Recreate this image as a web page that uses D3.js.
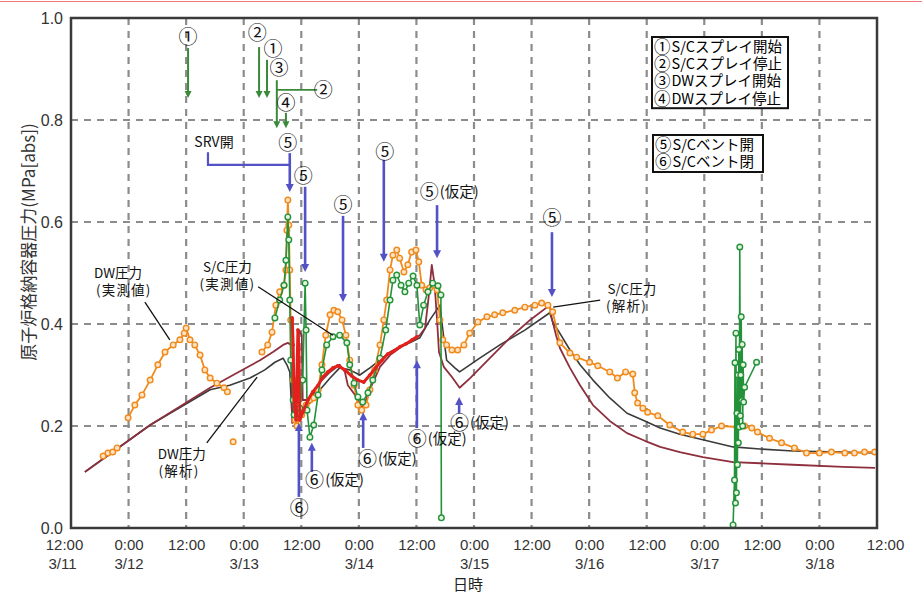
<!DOCTYPE html>
<html lang="ja">
<head>
<meta charset="utf-8">
<title>原子炉格納容器圧力</title>
<script src="https://cdn.jsdelivr.net/npm/d3@7/dist/d3.min.js"></script>
<style>
  html, body { margin: 0; padding: 0; background: #fff; }
  svg { display: block; }
  text { font-family: "Noto Sans CJK JP", "Noto Sans", sans-serif; }
  .num { font-family: "Liberation Sans", Arial, sans-serif; }
</style>
</head>
<body>
<svg id="chart" width="922" height="594"></svg>
<script>
// Time: hours elapsed since 2011-03-11 00:00.  Pressure: MPa[abs].

const tickHours = [12, 24, 36, 48, 60, 72, 84, 96, 108, 120, 132, 144, 156, 168, 180];
const tickClock = ["12:00","0:00","12:00","0:00","12:00","0:00","12:00","0:00","12:00","0:00","12:00","0:00","12:00","0:00","12:00"];
const tickDate  = ["3/11","3/12","","3/13","","3/14","","3/15","","3/16","","3/17","","3/18",""];
const pressureTicks = [0, 0.2, 0.4, 0.6, 0.8, 1.0];

// DW pressure, measured (null = gap in the record)
const dwMeasured = [
  [18.7,0.141],[19.7,0.147],[20.7,0.149],[21.6,0.157], null,
  [23.9,0.216],[25.3,0.241],[26.8,0.261],[28.5,0.290],[30.1,0.320],[31.6,0.345],[33.3,0.359],[34.7,0.369],
  [35.6,0.382],[36.0,0.392],[36.8,0.369],[37.8,0.359],[38.9,0.339],[39.9,0.310],[41.0,0.294],[42.4,0.284],
  [43.9,0.275],[44.6,0.267], null,
  [45.8,0.169], null,
  [51.8,0.345],[53.0,0.359],[53.9,0.384],[54.7,0.437],[55.5,0.463],[56.4,0.476],[56.8,0.506],[57.0,0.584],
  [57.2,0.643],[57.4,0.594],[57.6,0.506],[57.8,0.408],[58.3,0.290],[58.7,0.212],[59.1,0.200],[60.1,0.222],
  [61.0,0.241],[61.8,0.251],[62.6,0.255],[63.5,0.271],[64.3,0.320],[65.1,0.378],[66.0,0.418],[66.8,0.427],
  [67.6,0.424],[68.5,0.408],[69.3,0.378],[70.1,0.329],[71.0,0.280],[71.8,0.241],[72.6,0.231],[73.5,0.241],
  [74.3,0.271],[75.3,0.310],[76.4,0.359],[77.2,0.408],[77.8,0.447],[78.5,0.506],[79.1,0.535],[79.9,0.545],
  [80.5,0.529],[81.4,0.502],[82.2,0.516],[83.0,0.541],[83.9,0.545],[84.5,0.522],[85.1,0.476],[86.0,0.467],
  [86.8,0.471],[87.6,0.476],[88.3,0.467],[88.9,0.408],[89.5,0.369],[90.3,0.359],[91.4,0.349],[92.6,0.349],
  [93.9,0.359],[95.1,0.382],[96.8,0.404],[98.7,0.414],[100.3,0.418],[102.0,0.422],[104.5,0.427],[106.6,0.433],
  [108.7,0.437],[110.1,0.441],[111.4,0.437],[112.4,0.424],[113.9,0.363],[116.0,0.343],[117.4,0.335],[120.1,0.325],
  [121.8,0.318],[124.3,0.306],[125.9,0.294],[127.6,0.306],[129.1,0.302],[129.5,0.265],[130.1,0.245],[131.2,0.235],
  [132.2,0.227],[134.3,0.220],[136.8,0.202],[139.5,0.188],[141.6,0.184],[143.7,0.184],[145.5,0.192],[147.6,0.200],
  [150.8,0.198],[152.4,0.200],[153.9,0.196],[155.1,0.188],[157.6,0.176],[160.1,0.167],[162.8,0.157],[165.3,0.147],
  [168.0,0.147],[170.5,0.149],[173.3,0.147],[175.3,0.147],[177.4,0.149],[179.5,0.149]
];

// S/C pressure, measured
const scMeasured = [
  [54.5,0.412],[55.5,0.447],[56.4,0.476],[56.8,0.525],[57.2,0.610],[57.4,0.565],[57.6,0.447],[57.8,0.329],
  [58.3,0.251],[58.5,0.222],[59.1,0.241],[59.7,0.235],[60.3,0.290],[60.8,0.480],[61.0,0.388],[61.2,0.231],
  [61.8,0.178],[62.6,0.202],[63.5,0.261],[64.3,0.310],[65.3,0.359],[66.6,0.375],[68.0,0.378],[69.5,0.363],
  [70.1,0.320],[71.0,0.284],[71.8,0.257],[72.8,0.247],[73.9,0.265],[74.9,0.290],[76.4,0.333],[77.6,0.388],
  [78.5,0.447],[79.1,0.486],[79.9,0.496],[80.8,0.476],[81.6,0.463],[82.4,0.480],[83.3,0.494],[84.1,0.476],
  [84.7,0.398],[85.5,0.437],[86.4,0.463],[87.4,0.480],[88.5,0.475],[89.1,0.457],[89.2,0.020], null,
  [150.0,0.006],[150.3,0.094],[150.4,0.324],[150.5,0.049],[150.6,0.382],[150.7,0.069],[150.8,0.225],[150.9,0.124],
  [151.0,0.300],[151.1,0.167],[151.2,0.350],[151.3,0.198],[151.4,0.551],[151.5,0.220],[151.6,0.300],[151.7,0.414],
  [151.8,0.250],[151.9,0.360],[152.0,0.200],[152.1,0.320],[152.2,0.247],[152.4,0.276],[154.9,0.325]
];

// S/C pressure, second gauge
const scMeasuredB = [
  [58.1,0.412],[58.3,0.359],[58.5,0.251],[58.9,0.212],[59.3,0.388],[59.5,0.349],[59.7,0.212],[60.5,0.231],
  [61.4,0.251],[62.4,0.267],[63.5,0.280],[64.5,0.296],[65.5,0.306],[66.6,0.314],[67.6,0.318],[69.1,0.310],
  [70.5,0.298],[71.8,0.290],[73.0,0.286],[74.3,0.300],[75.5,0.314],[76.8,0.329],[78.0,0.341],[79.3,0.347],
  [80.5,0.355],[81.8,0.361],[83.1,0.369],[84.1,0.375]
];

// DW pressure, analysis
const dwAnalysis = [
  [14.9,0.110],[28.5,0.202],[41.0,0.271],[45.1,0.280],[49.3,0.294],[52.4,0.310],[54.5,0.325],[56.2,0.333],
  [57.0,0.320],[57.6,0.306],[58.0,0.231],[58.5,0.212],[59.3,0.216],[60.3,0.235],[61.8,0.245],[63.9,0.271],
  [66.0,0.294],[68.0,0.314],[70.1,0.310],[72.2,0.300],[74.3,0.314],[76.4,0.329],[78.5,0.345],[80.5,0.355],
  [82.6,0.363],[84.7,0.373],[86.8,0.408],[88.9,0.437],[89.5,0.388],[90.3,0.329],[92.0,0.314],[93.0,0.306],
  [97.2,0.333],[101.4,0.359],[106.6,0.388],[111.8,0.422],[112.4,0.404],[113.5,0.388],[116.0,0.349],[118.1,0.320],
  [120.8,0.290],[124.3,0.255],[127.9,0.225],[131.6,0.210],[134.8,0.196],[138.9,0.184],[143.7,0.173],[150.0,0.159],
  [155.6,0.155],[162.5,0.151],[172.9,0.149],[179.6,0.147]
];

// S/C pressure, analysis
const scAnalysis = [
  [14.9,0.110],[28.5,0.202],[41.0,0.275],[45.8,0.300],[51.4,0.329],[54.1,0.345],[56.2,0.359],[57.2,0.363],
  [57.9,0.359],[58.1,0.206],[59.1,0.212],[59.5,0.388],[60.1,0.378],[60.3,0.251],[61.8,0.251],[62.8,0.267],
  [63.9,0.286],[66.0,0.306],[68.0,0.320],[69.1,0.306],[69.7,0.280],[71.2,0.261],[72.4,0.235],[73.5,0.251],
  [74.7,0.280],[76.4,0.316],[78.5,0.339],[80.5,0.353],[82.6,0.365],[84.7,0.378],[85.8,0.392],[86.6,0.457],
  [87.2,0.516],[87.8,0.476],[88.3,0.408],[88.7,0.345],[89.7,0.316],[91.4,0.296],[93.0,0.275],[95.2,0.294],
  [99.3,0.333],[103.5,0.373],[107.7,0.408],[111.8,0.437],[112.2,0.412],[113.1,0.378],[113.9,0.353],[116.0,0.314],
  [118.1,0.280],[120.8,0.241],[124.3,0.210],[127.9,0.186],[131.6,0.171],[134.8,0.159],[138.9,0.149],[143.7,0.139],
  [150.0,0.129],[155.6,0.127],[162.5,0.124],[172.9,0.120],[179.6,0.118]
];

// Spray events (green arrows): arrow time, arrow from/to pressure, label position
const sprayEvents = [
  { t: 36.4,  from: 0.941, to: 0.843, mark: "①", lt: 36.4,  lv: 0.963 },
  { t: 51.2,  from: 0.943, to: 0.843, mark: "②", lt: 50.8,  lv: 0.971 },
  { t: 52.85, from: 0.918, to: 0.843, mark: "①", lt: 54.1,  lv: 0.939 },
  { t: 54.9,  from: 0.878, to: 0.784, mark: "③", lt: 55.35, lv: 0.902 },
  { t: 56.8,  from: 0.814, to: 0.784, mark: "④", lt: 56.8,  lv: 0.833 }
];
// S/C spray stop with a horizontal leader to the DW spray line
const sprayLeader = { t0: 54.9, t1: 63.3, v: 0.859, mark: "②", lt: 64.6 };

// S/C vent open (blue arrows down) and close (blue arrows up)
const ventOpen = [
  { t: 57.6,   from: 0.735, to: 0.659, text: "⑤",      lt: 57.2,   lv: 0.755, anchor: "middle" },
  { t: 60.8,   from: 0.669, to: 0.502, text: "⑤",      lt: 60.4,   lv: 0.690, anchor: "middle" },
  { t: 68.7,   from: 0.612, to: 0.443, text: "⑤",      lt: 68.7,   lv: 0.633, anchor: "middle" },
  { t: 77.2,   from: 0.722, to: 0.522, text: "⑤",      lt: 77.4,   lv: 0.737, anchor: "middle" },
  { t: 88.3,   from: 0.633, to: 0.529, text: "⑤(仮定)", lt: 84.7,   lv: 0.659, anchor: "start" },
  { t: 112.25, from: 0.580, to: 0.453, text: "⑤",      lt: 112.25, lv: 0.608, anchor: "middle" }
];
const ventClose = [
  { t: 59.5, from: 0.061, to: 0.206, text: "⑥",      lt: 59.6, lv: 0.039, anchor: "middle" },
  { t: 62.2, from: 0.110, to: 0.167, text: "⑥(仮定)", lt: 60.8, lv: 0.094, anchor: "start" },
  { t: 72.9, from: 0.157, to: 0.227, text: "⑥(仮定)", lt: 71.8, lv: 0.135, anchor: "start" },
  { t: 84.1, from: 0.196, to: 0.329, text: "⑥(仮定)", lt: 82.2, lv: 0.175, anchor: "start" },
  { t: 92.9, from: 0.225, to: 0.257, text: "⑥(仮定)", lt: 91.0, lv: 0.206, anchor: "start" }
];
// SRV opening bracket, joined to the first vent-open arrow
const srvBracket = { text: "SRV開", lt: 41.8, lv: 0.757, t0: 40.55, v0: 0.737, v1: 0.712, t1: 57.6 };

// Series call-outs: text lines and leader line
const callouts = [
  { lines: ["DW圧力", "(実測値)"],  lt: [21.8, 23.0], lv: [0.500, 0.466], leader: [[27.4,0.443],[32.6,0.369]] },
  { lines: ["S/C圧力", "(実測値)"], lt: [44.6, 44.6], lv: [0.512, 0.478], leader: [[51.0,0.473],[66.6,0.378]] },
  { lines: ["DW圧力", "(解析)"],    lt: [35.1, 34.5], lv: [0.145, 0.111], leader: [[40.3,0.167],[50.8,0.296]] },
  { lines: ["S/C圧力", "(解析)"],   lt: [128.9, 127.8], lv: [0.469, 0.436], leader: [[112.5,0.433],[122.3,0.447]] }
];

const legendSpray = ["①S/Cスプレイ開始", "②S/Cスプレイ停止", "③DWスプレイ開始", "④DWスプレイ停止"];
const legendVent  = ["⑤S/Cベント開", "⑥S/Cベント閉"];

// ---------------------------------------------------------------------------
const svg = d3.select("#chart");
const plot = { left: 71, right: 877, top: 18, bottom: 528 };

const x = d3.scaleLinear().domain([12, 180]).range([plot.left, plot.right]);
const y = d3.scaleLinear().domain([0, 1]).range([plot.bottom, plot.top]);

const BLUE = "#5252c6", GREEN_ARROW = "#3a8a3a";

// Writes centred text at (px, py); a leading circled numeral is set a little larger
function richText(sel, px, py, text, baseSize, circSize) {
  const m = text.match(/^([\u2460-\u2473])(.*)$/);
  sel.attr("x", px).attr("y", py + 0.36 * baseSize).attr("font-size", baseSize);
  if (!m) { sel.text(text); return sel; }
  const drop = m[2] ? (circSize - baseSize) * 0.4 : 0;
  sel.append("tspan").attr("font-size", circSize).attr("dy", drop).text(m[1]);
  if (m[2]) sel.append("tspan").attr("dx", 1).attr("dy", -drop).text(m[2]);
  return sel;
}

// thin rule along the top edge
svg.append("line").attr("x1", 0).attr("x2", 922).attr("y1", 1.5).attr("y2", 1.5)
  .attr("stroke", "#f07a7a").attr("stroke-width", 1.2);

// grid
const grid = svg.append("g");
grid.selectAll("line.v").data(tickHours.slice(1, -1)).join("line").attr("class", "v")
  .attr("x1", d => x(d)).attr("x2", d => x(d)).attr("y1", y(1)).attr("y2", y(0))
  .attr("stroke", "#8c8c8c").attr("stroke-width", 2.2).attr("stroke-dasharray", "7,6");
grid.selectAll("line.h").data(pressureTicks.slice(1, -1)).join("line").attr("class", "h")
  .attr("x1", x(12)).attr("x2", x(180)).attr("y1", d => y(d)).attr("y2", d => y(d))
  .attr("stroke", "#8c8c8c").attr("stroke-width", 2.2).attr("stroke-dasharray", "7,6");

// series
const line = d3.line().defined(d => d !== null).x(d => x(d[0])).y(d => y(d[1]));
const series = svg.append("g").attr("fill", "none").attr("stroke-linejoin", "round");

series.append("path").datum(dwAnalysis).attr("d", line).attr("stroke", "#3b3b3b").attr("stroke-width", 1.6);
series.append("path").datum(scAnalysis).attr("d", line).attr("stroke", "#8e2f3e").attr("stroke-width", 1.8);

series.append("path").datum(dwMeasured).attr("d", line).attr("stroke", "#f08a1c").attr("stroke-width", 1.8);
series.selectAll("circle.dw").data(dwMeasured.filter(d => d)).join("circle").attr("class", "dw")
  .attr("cx", d => x(d[0])).attr("cy", d => y(d[1])).attr("r", 2.8)
  .attr("fill", "#fde3c4").attr("stroke", "#f08a1c").attr("stroke-width", 1.4);

series.append("path").datum(scMeasured).attr("d", line).attr("stroke", "#23923a").attr("stroke-width", 1.6);
series.selectAll("circle.sc").data(scMeasured.filter(d => d)).join("circle").attr("class", "sc")
  .attr("cx", d => x(d[0])).attr("cy", d => y(d[1])).attr("r", 2.8)
  .attr("fill", "#e4f4de").attr("stroke", "#23923a").attr("stroke-width", 1.4);

series.append("path").datum(scMeasuredB).attr("d", line).attr("stroke", "#e3201c").attr("stroke-width", 3);
series.selectAll("circle.scb").data(scMeasuredB).join("circle").attr("class", "scb")
  .attr("cx", d => x(d[0])).attr("cy", d => y(d[1])).attr("r", 1.8).attr("fill", "#e3201c");

// arrows and labels
const notes = svg.append("g");
function arrow(t, from, to, color, width, head) {
  const xp = x(t), y1 = y(from), y2 = y(to), dir = Math.sign(y2 - y1);
  notes.append("line").attr("x1", xp).attr("x2", xp).attr("y1", y1).attr("y2", y2 - dir * head * 0.8)
    .attr("stroke", color).attr("stroke-width", width);
  notes.append("path")
    .attr("d", `M${xp},${y2}L${xp - head / 2},${y2 - dir * head}L${xp + head / 2},${y2 - dir * head}Z`)
    .attr("fill", color);
}
function label(t, v, text, size, anchor, circSize) {
  const el = notes.append("text").attr("text-anchor", anchor || "middle").attr("fill", "#111");
  return richText(el, x(t), y(v), text, size, circSize || size);
}

sprayEvents.forEach(e => { arrow(e.t, e.from, e.to, GREEN_ARROW, 2, 7); label(e.lt, e.lv, e.mark, 19); });
notes.append("line").attr("x1", x(sprayLeader.t0)).attr("x2", x(sprayLeader.t1))
  .attr("y1", y(sprayLeader.v)).attr("y2", y(sprayLeader.v)).attr("stroke", GREEN_ARROW).attr("stroke-width", 1.6);
label(sprayLeader.lt, sprayLeader.v, sprayLeader.mark, 19);

[...ventOpen, ...ventClose].forEach(e => {
  arrow(e.t, e.from, e.to, BLUE, 2.6, 8);
  if (e.anchor === "start") label(e.lt, e.lv, e.text, 14.5, "start", 19);
  else label(e.lt, e.lv, e.text, 19);
});

notes.append("path")
  .attr("d", d3.line()([[x(srvBracket.t0), y(srvBracket.v0)], [x(srvBracket.t0), y(srvBracket.v1)], [x(srvBracket.t1), y(srvBracket.v1)]]))
  .attr("fill", "none").attr("stroke", BLUE).attr("stroke-width", 2.2);
label(srvBracket.lt, srvBracket.lv, srvBracket.text, 14);

callouts.forEach(c => {
  notes.append("line").attr("x1", x(c.leader[0][0])).attr("y1", y(c.leader[0][1]))
    .attr("x2", x(c.leader[1][0])).attr("y2", y(c.leader[1][1])).attr("stroke", "#111").attr("stroke-width", 1.3);
  c.lines.forEach((s, i) => label(c.lt[i], c.lv[i], s, 13.5).attr("letter-spacing", s.startsWith("(") ? 1.2 : 0));
});

// legend boxes
function legendBox(rows, bx, by, bw, rowH) {
  const g = svg.append("g");
  g.append("rect").attr("x", bx).attr("y", by).attr("width", bw).attr("height", rows.length * rowH + 2)
    .attr("fill", "#fff").attr("stroke", "#111").attr("stroke-width", 2);
  g.selectAll("text").data(rows).join("text").attr("fill", "#000")
    .each(function (d, i) { richText(d3.select(this), bx + 2, by + 1 + rowH * (i + 0.5), d, 14.5, 16.5); });
}
legendBox(legendSpray, 652, 37, 136, 17.3);
legendBox(legendVent, 653, 135, 110, 17.5);

// frame
svg.append("rect").attr("x", plot.left).attr("y", plot.top)
  .attr("width", plot.right - plot.left).attr("height", plot.bottom - plot.top)
  .attr("fill", "none").attr("stroke", "#3a3a3a").attr("stroke-width", 2.5);

// x axis
const xAxis = svg.append("g").attr("transform", `translate(0,${plot.bottom})`)
  .call(d3.axisBottom(x).tickValues(tickHours).tickSize(0).tickFormat((d, i) => tickClock[i]));
xAxis.select(".domain").remove();
xAxis.selectAll(".tick text").attr("class", "num").attr("y", 22).attr("dy", null)
  .attr("font-size", 15).attr("fill", "#333")
  .attr("dx", (d, i) => i === 0 ? -7 : (i === tickHours.length - 1 ? 8 : 0));
xAxis.selectAll(".tick").append("text").attr("class", "num")
  .attr("y", 41).attr("font-size", 15).attr("fill", "#333").attr("text-anchor", "middle")
  .attr("dx", (d, i) => i === 0 ? -9 : 0)
  .text((d, i) => tickDate[i]);

// y axis
const yAxis = svg.append("g").attr("transform", `translate(${plot.left},0)`)
  .call(d3.axisLeft(y).tickValues(pressureTicks).tickSize(0).tickPadding(8).tickFormat(d3.format(".1f")));
yAxis.select(".domain").remove();
yAxis.selectAll(".tick text").attr("class", "num").attr("font-size", 16).attr("fill", "#333");

// axis titles
svg.append("text").attr("transform", "translate(27,242) rotate(-90)")
  .attr("text-anchor", "middle").attr("dominant-baseline", "central")
  .attr("font-size", 17).attr("fill", "#333").text("原子炉格納容器圧力(MPa[abs])");
svg.append("text").attr("x", 468).attr("y", 590)
  .attr("text-anchor", "middle").attr("font-size", 15).attr("fill", "#222").text("日時");
</script>
</body>
</html>
